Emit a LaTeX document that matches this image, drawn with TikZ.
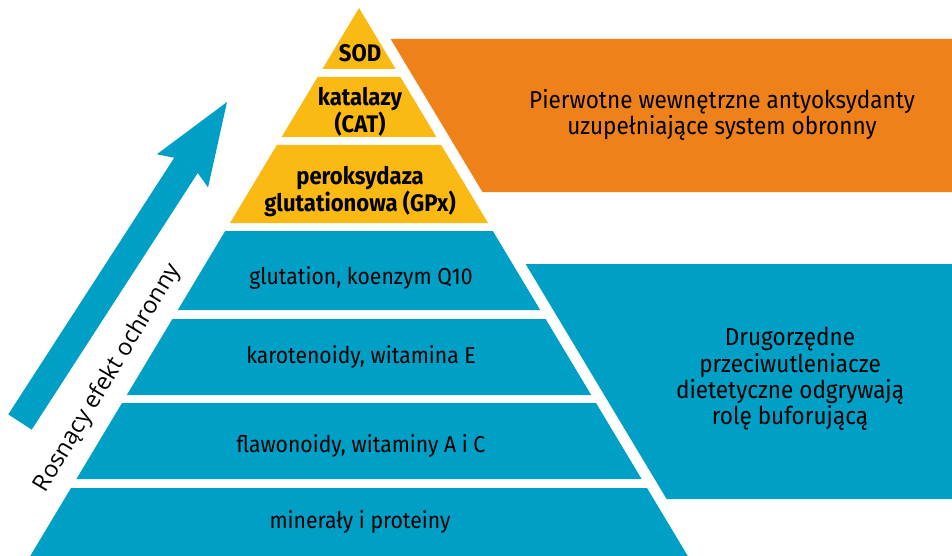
\documentclass[tikz,border=0pt]{standalone}
\usepackage{fontspec}
\setmainfont{Fira Sans}[FakeStretch=0.92]
\newfontfamily\arrowfont{Open Sans}
\usepackage{tikz}
\tikzset{>=stealth}
\usetikzlibrary{arrows.meta}
\definecolor{pyrorange}{RGB}{238,129,26}
\definecolor{pyryellow}{RGB}{251,186,19}
\definecolor{pyrblue}{RGB}{0,160,198}
\tikzset{
  toplabel/.style={font=\fontsize{24}{27}\selectfont\bfseries, align=center, inner sep=0pt},
  bandlabel/.style={font=\fontsize{23}{26}\selectfont, anchor=base, inner sep=0pt},
  sidelabel/.style={font=\fontsize{24.5}{26.3}\selectfont, align=center, inner sep=0pt},
  effectlabel/.style={font=\arrowfont\fontsize{23.5}{26}\selectfont, rotate=59, inner sep=0pt}
}

\begin{document}
\begin{tikzpicture}[x=1pt,y=-1pt]
            \useasboundingbox (0,0) rectangle (952,556);
            % pyramid bands
            \foreach \ya/\yb/\col in {8/69/pyryellow, 77/137/pyryellow, 145/223/pyryellow, 231/310/pyrblue, 319/395/pyrblue, 403/479/pyrblue, 488/556/pyrblue}
                \fill[\col] ({359-0.6*(\ya-8)},\ya) -- ({359+0.6*(\ya-8)},\ya) -- ({359+0.6*(\yb-8)},\yb) -- ({359-0.6*(\yb-8)},\yb) -- cycle;
            % side boxes
            \fill[pyrorange] ({372+0.6*31},39) -- (952,39) -- (952,192) -- ({372+0.6*184},192) -- cycle;
            \fill[pyrblue] ({372+0.6*256},264) -- (952,264) -- (952,499) -- ({372+0.6*491},499) -- cycle;
            % arrow
            \coordinate (tail) at (20,422);
            \coordinate (tip) at (227,102);
            \draw[pyrblue, line width=28pt, -{Stealth[length=82pt, width=61pt, inset=12pt, line width=0pt]}] (tail) -- (tip);
            \node[effectlabel] (effect) at (108,378) {Rosnący efekt ochronny};
            % labels
            \node[toplabel, anchor=base] (sod) at (360,62) {SOD};
            \node[toplabel] (cat) at (360,112) {katalazy\\(CAT)};
            \node[toplabel] (gpx) at (360,192) {peroksydaza\\glutationowa (GPx)};
            \node[bandlabel] (glut) at (361,284) {glutation, koenzym Q10};
            \node[bandlabel] (karot) at (361,363) {karotenoidy, witamina E};
            \node[bandlabel] (flaw) at (361,452) {flawonoidy, witaminy A i C};
            \node[bandlabel] (miner) at (360,528) {minerały i proteiny};
            \node[sidelabel] (primary) at (722,115) {Pierwotne wewnętrzne antyoksydanty\\uzupełniające system obronny};
            \node[sidelabel] (secondary) at (790,379) {Drugorzędne\\przeciwutleniacze\\dietetyczne odgrywają\\rolę buforującą};
        \end{tikzpicture}
\end{document}
